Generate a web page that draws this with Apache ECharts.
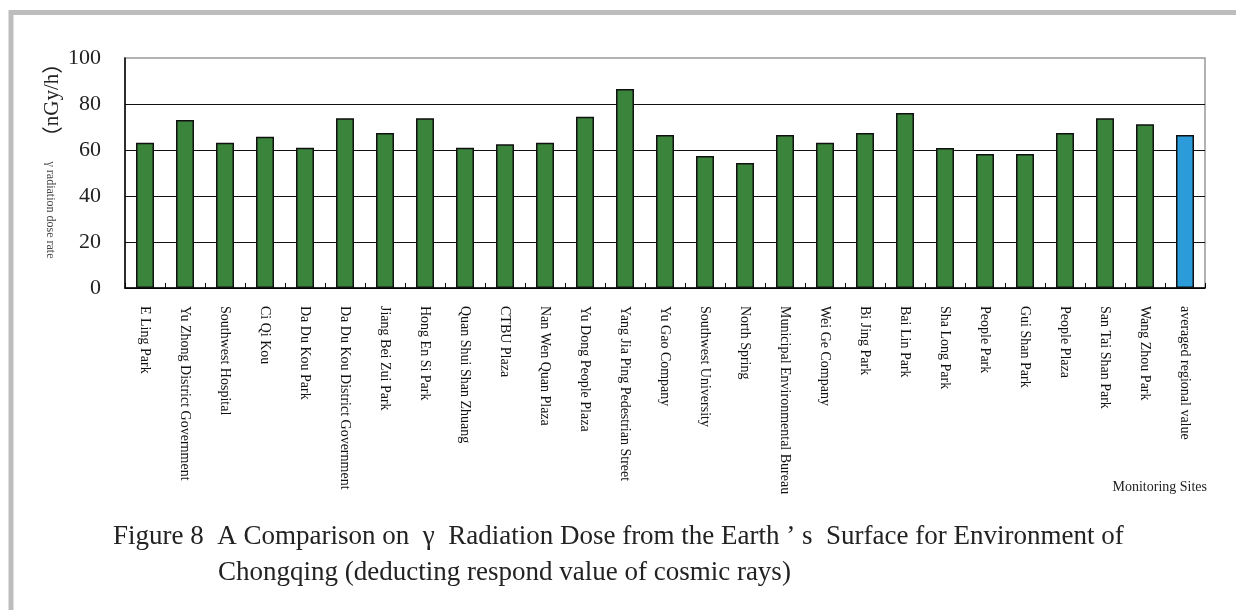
<!DOCTYPE html>
<html>
<head>
<meta charset="utf-8">
<script src="https://cdn.jsdelivr.net/npm/echarts@6/dist/echarts.min.js"></script>
<style>
html,body{margin:0;padding:0;background:#fff;}
#c{width:1236px;height:610px;}
</style>
</head>
<body>
<div id="c"></div>
<script>
var categories = ["E Ling Park","Yu Zhong District Government","Southwest Hospital","Ci Qi Kou","Da Du Kou Park","Da Du Kou District Government","Jiang Bei Zui Park","Hong En Si Park","Quan Shui Shan Zhuang","CTBU Plaza","Nan Wen Quan Plaza","Yu Dong People Plaza","Yang Jia Ping Pedestrian Street","Yu Gao Company","Southwest University","North Spring","Municipal Environmental Bureau","Wei Ge Company","Bi Jing Park","Bai Lin Park","Sha Long Park","People Park","Gui Shan Park","People Plaza","San Tai Shan Park","Wang Zhou Park","averaged regional value"];
var doseRates = [63.2,73.0,63.2,65.8,61.0,73.8,67.4,73.8,61.0,62.5,63.2,74.5,86.5,66.5,57.4,54.3,66.5,63.2,67.4,76.1,60.9,58.3,58.3,67.4,73.8,71.2,66.5];
var averagedIndex = 26;
var yTicks = [0,20,40,60,80,100];

var GREEN = '#3a853b', BLUE = '#2b9bd9';
var serif = '"Liberation Serif","Times New Roman",serif';

var chart = echarts.init(document.getElementById('c'));
chart.setOption({
  animation:false,
  backgroundColor:'#fff',
  grid:{left:125,right:31,top:58,bottom:322,show:true,borderColor:'#999',borderWidth:1.5,backgroundColor:'transparent'},
  xAxis:{
    type:'category',
    data:categories,
    axisLine:{lineStyle:{color:'#000',width:1.5}},
    axisTick:{show:true,inside:true,length:5,lineStyle:{color:'#000',width:1}},
    axisLabel:{interval:0,rotate:-90,margin:18,fontFamily:serif,fontSize:14,color:'#111'}
  },
  yAxis:{
    type:'value',min:yTicks[0],max:yTicks[yTicks.length-1],interval:20,
    axisLine:{show:true,lineStyle:{color:'#000',width:1.5}},
    axisTick:{show:false},
    axisLabel:{margin:24,fontFamily:serif,fontSize:22,color:'#222'},
    splitLine:{show:true,showMaxLine:false,lineStyle:{color:'#111',width:1.2}}
  },
  series:[{
    type:'bar',
    data:doseRates.map(function(v,i){return {value:v,itemStyle:{color:i===averagedIndex?BLUE:GREEN}};}),
    barWidth:'45%',
    itemStyle:{borderColor:'#111',borderWidth:1.5}
  }],
  graphic:[
    {type:'rect',shape:{x:11,y:12.5,width:1500,height:900},style:{fill:'none',stroke:'#bdbdbd',lineWidth:5},silent:true},
    {type:'text',x:52,y:100,rotation:Math.PI/2,style:{
      text:'{p|（}{t|nGy/h}{p|）}',
      textAlign:'center',textVerticalAlign:'middle',
      rich:{
        p:{fontFamily:'"Noto Sans CJK SC",sans-serif',fontSize:21,fill:'#222'},
        t:{fontFamily:serif,fontSize:21,fill:'#222'}
      }}},
    {type:'text',x:50,y:210,rotation:-Math.PI/2,style:{text:'γ radiation dose rate',fontFamily:serif,fontSize:12,fill:'#444',textAlign:'center',textVerticalAlign:'middle'}},
    {type:'text',x:1207,y:487,style:{text:'Monitoring Sites',fontFamily:serif,fontSize:14,fill:'#222',textAlign:'right',textVerticalAlign:'middle'}},
    {type:'text',x:113,y:537,style:{text:'Figure 8  A Comparison on  γ  Radiation Dose from the Earth ’ s  Surface for Environment of',fontFamily:serif,fontSize:27,fill:'#222',textAlign:'left',textVerticalAlign:'middle'}},
    {type:'text',x:218,y:573,style:{text:'Chongqing (deducting respond value of cosmic rays)',fontFamily:serif,fontSize:27,fill:'#222',textAlign:'left',textVerticalAlign:'middle'}}
  ]
});
</script>
</body>
</html>
